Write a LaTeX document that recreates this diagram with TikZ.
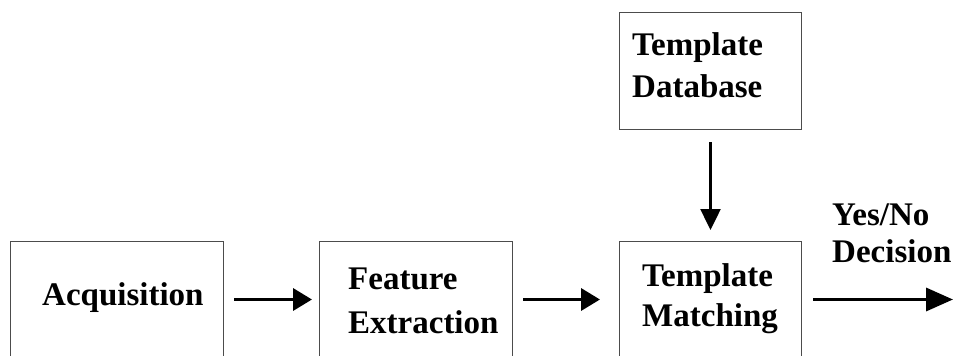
\documentclass[tikz,border=0pt]{standalone}
\usepackage{fontspec}
\setmainfont{Liberation Serif}
\usetikzlibrary{arrows.meta}
\begin{document}
\begin{tikzpicture}[x=1pt,y=-1pt,
  blockbox/.style={draw=black!70,line width=1pt,rectangle,inner sep=0pt,
    anchor=north west,minimum height=116pt},
  lbl/.style={anchor=north west,align=left,inner sep=0pt},
  fnt/.style={font=\fontsize{33}{#1}\selectfont\bfseries},
  flowarrow/.style={line width=3.5pt,-{Triangle[length=19pt,width=22pt]}},
  downarrow/.style={line width=2.5pt,-{Triangle[length=21pt,width=20pt]}},
  outarrow/.style={line width=3.5pt,-{Triangle[length=27pt,width=23pt]}}]
\useasboundingbox (0,0) rectangle (953,356);
\clip (0,0) rectangle (953,356);
\fill[white] (0,0) rectangle (953,356);
% boxes
\node[blockbox,minimum width=213pt] (acq) at (10,241) {};
\node[blockbox,minimum width=193pt] (fe) at (319,241) {};
\node[blockbox,minimum width=182pt] (tm) at (619,241) {};
\node[blockbox,minimum width=182pt,minimum height=117pt] (db) at (619,12) {};
% texts
\node[lbl,fnt=35] (acqt) at (42,282) {Acquisition};
\node[lbl,fnt=44] (fet) at (348,268) {Feature\\Extraction};
\node[lbl,fnt=40] (tmt) at (642,263) {Template\\Matching};
\node[lbl,fnt=42] (dbt) at (632,32) {Template\\Database};
\node[lbl,fnt=37] (yn) at (832,204) {Yes/No\\Decision};
\coordinate (out) at (953,299);
% connectors
\draw[flowarrow,shorten <=10pt,shorten >=7pt] (acq.east) -- (fe.west);
\draw[flowarrow,shorten <=10pt,shorten >=19pt] (fe.east) -- (tm.west);
\draw[downarrow,shorten <=12pt,shorten >=11pt] (db.south) -- (tm.north);
\draw[outarrow,shorten <=11pt] (tm.east) -- (tm.east -| out);
\end{tikzpicture}
\end{document}
